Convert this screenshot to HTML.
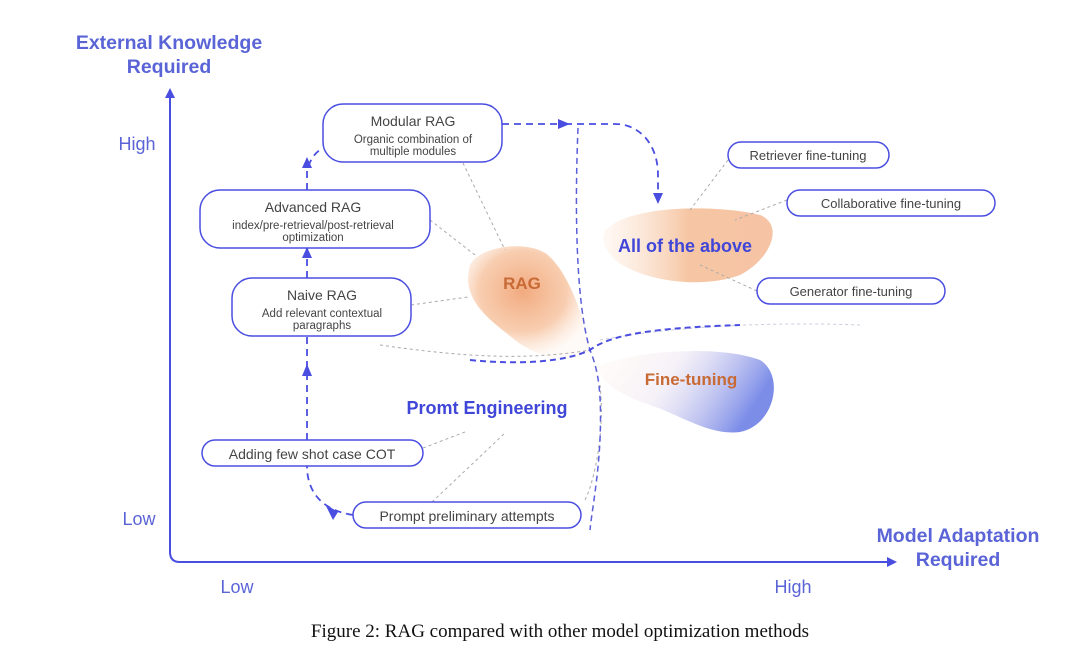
<!DOCTYPE html>
<html><head><meta charset="utf-8"><style>
html,body{margin:0;padding:0;background:#fff;width:1080px;height:653px;overflow:hidden}
svg{display:block}
text{font-family:"Liberation Sans",sans-serif}
</style></head><body>
<svg width="1080" height="653" viewBox="0 0 1080 653">
<defs>
<radialGradient id="og" cx="0.45" cy="0.4" r="0.6">
<stop offset="0" stop-color="#f0a070" stop-opacity="0.9"/>
<stop offset="0.6" stop-color="#f5b88e" stop-opacity="0.7"/>
<stop offset="1" stop-color="#fde6d6" stop-opacity="0.2"/>
</radialGradient>
<linearGradient id="og2" x1="0" y1="0" x2="1" y2="0">
<stop offset="0" stop-color="#fde8d8" stop-opacity="0.3"/>
<stop offset="0.5" stop-color="#f5c09a" stop-opacity="0.9"/>
<stop offset="1" stop-color="#f3b58d" stop-opacity="0.8"/>
</linearGradient>
<linearGradient id="bg" x1="0" y1="0" x2="1" y2="0.3">
<stop offset="0" stop-color="#fde8da" stop-opacity="0.1"/>
<stop offset="0.45" stop-color="#e8e0f0" stop-opacity="0.5"/>
<stop offset="1" stop-color="#6d80e6"/>
</linearGradient>
</defs>

<path d="M470,265 C480,245 530,240 548,255 C570,275 585,320 590,350 C575,365 540,360 515,340 C490,320 460,300 470,265z" fill="url(#og)"/>
<path d="M612,225 C640,205 720,205 760,215 C785,225 770,260 740,275 C700,290 640,280 615,260 C600,245 600,232 612,225z" fill="url(#og2)"/>
<path d="M600,365 C640,350 720,345 760,360 C785,375 775,425 740,432 C710,436 680,415 650,405 C620,395 595,380 600,365z" fill="url(#bg)" opacity="0.9"/>

<path d="M170,96 L170,552 Q170,562 180,562 L890,562" fill="none" stroke="#4a4ee0" stroke-width="2"/>
<path d="M165,98 L170,88 L175,98z" fill="#4a4ee0"/>
<path d="M887,557 L897,562 L887,567z" fill="#4a4ee0"/>

<text x="169" y="49" font-size="19.5" font-weight="bold" fill="#5a64d6" text-anchor="middle">External Knowledge</text>
<text x="169" y="73" font-size="19.5" font-weight="bold" fill="#5a64d6" text-anchor="middle">Required</text>
<text x="137" y="150" font-size="18" fill="#5a64d6" text-anchor="middle">High</text>
<text x="139" y="525" font-size="18" fill="#5a64d6" text-anchor="middle">Low</text>
<text x="237" y="593" font-size="18" fill="#5a64d6" text-anchor="middle">Low</text>
<text x="793" y="593" font-size="18" fill="#5a64d6" text-anchor="middle">High</text>
<text x="958" y="542" font-size="19.5" font-weight="bold" fill="#5a64d6" text-anchor="middle">Model Adaptation</text>
<text x="958" y="566" font-size="19.5" font-weight="bold" fill="#5a64d6" text-anchor="middle">Required</text>

<g stroke="#aaa" stroke-width="1" stroke-dasharray="3,3" fill="none">
<line x1="463" y1="163" x2="505" y2="250"/>
<line x1="430" y1="220" x2="475" y2="255"/>
<line x1="411" y1="305" x2="468" y2="297"/>
<line x1="728" y1="160" x2="690" y2="210"/>
<line x1="787" y1="200" x2="735" y2="220"/>
<line x1="757" y1="291" x2="700" y2="265"/>
<line x1="423" y1="448" x2="465" y2="432"/>
<line x1="432" y1="502" x2="505" y2="433"/>
<path d="M380,345 C450,355 520,362 590,350"/>
<path d="M600,385 C605,430 595,480 585,500"/>
<path d="M600,340 C680,325 780,322 860,325" stroke="#ccd"/>
</g>

<g stroke="#4a4ee0" stroke-width="2" stroke-dasharray="6,4" fill="none">
<path d="M578,128 C575,200 575,300 590,350 C598,370 602,390 600,440 C598,480 592,510 590,530" stroke-width="1.5" stroke="#5a5ed8"/>
<path d="M470,360 C520,365 565,362 590,350 C610,335 650,328 740,325" />
</g>

<g stroke="#4a4ee0" stroke-width="1.8" stroke-dasharray="7,5" fill="none">
<path d="M353,515 C320,510 307,490 307,466"/>
<line x1="307" y1="440" x2="307" y2="336"/>
<line x1="307" y1="278" x2="307" y2="248"/>
<path d="M307,190 L307,170 C310,160 315,152 323,148"/>
<path d="M502,124 L565,124"/>
<path d="M565,124 L615,124 C640,124 658,145 658,175 L658,200"/>
</g>
<path d="M302,376 L307,364 L312,376z" fill="#4a4ee0"/>
<path d="M302,258 L307,247 L312,258z" fill="#4a4ee0"/>
<path d="M302,168 L307,157 L312,168z" fill="#4a4ee0"/>
<path d="M558,119 L570,124 L558,129z" fill="#4a4ee0"/>
<path d="M653,193 L658,204 L663,193z" fill="#4a4ee0"/>
<path d="M338,512 L325,504 L333,520z" fill="#4a4ee0"/>

<g fill="#fff" stroke="#4a4ee0" stroke-width="1.5">
<rect x="323" y="104" width="179" height="58" rx="20"/>
<rect x="200" y="190" width="230" height="58" rx="20"/>
<rect x="232" y="278" width="179" height="58" rx="20"/>
<rect x="202" y="440" width="221" height="26" rx="13"/>
<rect x="353" y="502" width="228" height="26" rx="13"/>
<rect x="728" y="142" width="161" height="26" rx="13"/>
<rect x="787" y="190" width="208" height="26" rx="13"/>
<rect x="757" y="278" width="188" height="26" rx="13"/>
</g>
<g fill="#444" text-anchor="middle">
<text x="413" y="126" font-size="14">Modular RAG</text>
<text x="413" y="143" font-size="11.5">Organic combination of</text>
<text x="413" y="155" font-size="11.5">multiple modules</text>
<text x="313" y="212" font-size="14">Advanced RAG</text>
<text x="313" y="229" font-size="11.5">index/pre-retrieval/post-retrieval</text>
<text x="313" y="241" font-size="11.5">optimization</text>
<text x="322" y="300" font-size="14">Naive RAG</text>
<text x="322" y="317" font-size="11.5">Add relevant contextual</text>
<text x="322" y="329" font-size="11.5">paragraphs</text>
<text x="312" y="459" font-size="14">Adding few shot case COT</text>
<text x="467" y="521" font-size="14">Prompt preliminary attempts</text>
<text x="808" y="160" font-size="13">Retriever fine-tuning</text>
<text x="891" y="208" font-size="13">Collaborative fine-tuning</text>
<text x="851" y="296" font-size="13">Generator fine-tuning</text>
</g>

<text x="522" y="289" font-size="17" font-weight="bold" fill="#c86a35" text-anchor="middle">RAG</text>
<text x="685" y="252" font-size="18" font-weight="bold" fill="#3f46d8" text-anchor="middle">All of the above</text>
<text x="691" y="385" font-size="17" font-weight="bold" fill="#c86a35" text-anchor="middle">Fine-tuning</text>
<text x="487" y="414" font-size="18" font-weight="bold" fill="#3f46d8" text-anchor="middle">Promt Engineering</text>

<text x="560" y="637" font-size="19" fill="#111" text-anchor="middle" style="font-family:'Liberation Serif',serif">Figure 2: RAG compared with other model optimization methods</text>
</svg>
</body></html>
